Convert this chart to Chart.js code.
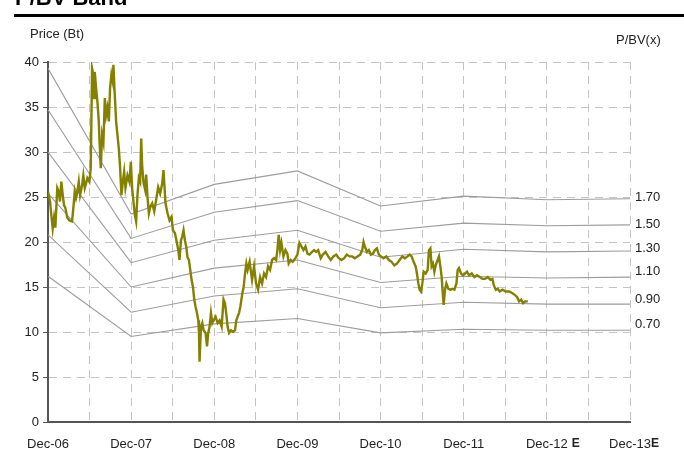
<!DOCTYPE html>
<html>
<head>
<meta charset="utf-8">
<script src="https://cdn.jsdelivr.net/npm/chart.js@4/dist/chart.umd.min.js"></script>
<style>
  html, body { margin: 0; padding: 0; background: #fff; }
  #wrap { position: relative; width: 684px; height: 450px; }
</style>
</head>
<body>
<div id="wrap"><canvas id="chart" width="684" height="450"></canvas></div>
<script>
// x positions are months after Dec-06
const tickLabels = ['Dec-06', 'Dec-07', 'Dec-08', 'Dec-09', 'Dec-10', 'Dec-11', 'Dec-12', 'Dec-13'];
const tickSuffix = ['', '', '', '', '', '', ' E', 'E'];
const bandMonths = [0, 12, 24, 36, 48, 60, 72, 84];

const band170 = [39.3, 23.1, 26.4, 27.9, 24.0, 25.1, 24.7, 24.8];
const band150 = [34.7, 20.4, 23.3, 24.6, 21.2, 22.1, 21.8, 21.9];
const band130 = [30.0, 17.7, 20.2, 21.3, 18.3, 19.2, 18.9, 19.0];
const band110 = [25.4, 15.0, 17.1, 18.0, 15.5, 16.2, 16.0, 16.1];
const band090 = [20.8, 12.2, 14.0, 14.8, 12.7, 13.3, 13.1, 13.1];
const band070 = [16.2, 9.5, 10.9, 11.5, 9.9, 10.3, 10.2, 10.2];

const bandNames = ['1.70', '1.50', '1.30', '1.10', '0.90', '0.70'];
const bandLabelAt = [24.9, 21.9, 19.3, 16.7, 13.6, 10.8];

const priceMonths = [
  0.00, 0.29, 0.48, 0.68, 0.87, 1.06, 1.34, 1.55, 1.73, 1.92, 2.13, 2.31, 2.50, 2.79, 3.08, 3.47,
  3.66, 3.86, 4.05, 4.24, 4.44, 4.63, 4.92, 5.10, 5.31, 5.49, 5.68, 5.97, 6.17, 6.26, 6.36, 6.55,
  6.65, 6.75, 6.94, 7.13, 7.33, 7.42, 7.62, 7.81, 8.00, 8.20, 8.39, 8.57, 8.78, 8.96, 9.15, 9.35,
  9.44, 9.64, 9.83, 10.02, 10.22, 10.41, 10.60, 10.80, 10.99, 11.18, 11.47, 11.75, 11.96, 12.14, 12.33, 12.54,
  12.72, 12.91, 13.11, 13.30, 13.45, 13.59, 13.78, 14.02, 14.17, 14.36, 14.56, 14.75, 15.04, 15.33, 15.61, 15.90,
  16.19, 16.48, 16.67, 16.96, 17.25, 17.54, 17.83, 18.03, 18.32, 18.61, 18.80, 18.98, 19.19, 19.37, 19.56, 19.76,
  19.95, 20.14, 20.34, 20.53, 20.72, 20.92, 21.11, 21.30, 21.50, 21.69, 21.79, 21.87, 22.08, 22.27, 22.45, 22.74,
  22.95, 23.13, 23.32, 23.52, 23.71, 23.90, 24.19, 24.48, 24.77, 25.06, 25.34, 25.55, 25.73, 25.92, 26.13, 26.41,
  26.70, 26.99, 27.18, 27.37, 27.57, 27.76, 28.05, 28.24, 28.44, 28.63, 28.81, 29.10, 29.25, 29.45, 29.74, 30.03,
  30.32, 30.61, 30.90, 31.18, 31.47, 31.76, 32.05, 32.34, 32.63, 32.92, 33.11, 33.30, 33.50, 33.69, 33.98, 34.27,
  34.55, 34.74, 35.03, 35.32, 35.71, 36.00, 36.29, 36.58, 36.87, 37.16, 37.45, 37.73, 38.12, 38.41, 38.70, 38.99,
  39.37, 39.66, 40.05, 40.44, 40.81, 41.20, 41.59, 41.97, 42.36, 42.75, 43.13, 43.52, 43.91, 44.28, 44.67, 45.07,
  45.35, 45.54, 45.73, 46.02, 46.31, 46.60, 46.89, 47.18, 47.47, 47.76, 48.04, 48.43, 48.82, 49.20, 49.59, 49.98,
  50.36, 50.75, 51.14, 51.51, 51.90, 52.19, 52.48, 52.77, 53.06, 53.25, 53.45, 53.64, 53.83, 54.03, 54.22, 54.51,
  54.80, 54.98, 55.19, 55.37, 55.56, 55.76, 55.95, 56.24, 56.43, 56.63, 56.82, 57.01, 57.11, 57.30, 57.50, 57.79,
  58.08, 58.37, 58.66, 58.95, 59.13, 59.32, 59.61, 59.90, 60.19, 60.48, 60.77, 61.16, 61.55, 61.92, 62.31, 62.70,
  63.08, 63.47, 63.86, 64.15, 64.34, 64.63, 64.91, 65.20, 65.60, 66.07, 66.55, 67.04, 67.41, 67.70, 67.99, 68.29,
  68.57, 68.86, 69.25
];
const priceValues = [
  25.6, 24.5, 23.0, 21.5, 22.7, 21.6, 26.0, 25.6, 24.5, 26.7, 25.2, 24.1, 23.8, 22.7, 22.4, 22.3,
  23.8, 25.6, 24.9, 25.6, 26.7, 25.2, 26.3, 27.4, 26.0, 26.5, 27.1, 26.7, 28.2, 33.4, 39.3, 38.6,
  36.0, 38.9, 37.1, 35.6, 33.4, 31.5, 28.2, 31.9, 31.1, 36.0, 34.1, 34.9, 33.4, 37.1, 38.6, 37.8,
  39.7, 36.3, 33.4, 31.9, 30.4, 28.2, 25.2, 26.7, 27.8, 26.0, 27.4, 26.7, 28.9, 26.0, 24.5, 23.0,
  22.3, 25.2, 27.1, 26.7, 31.5, 28.5, 26.6, 25.8, 27.5, 25.0, 23.2, 23.9, 24.3, 23.4, 24.7, 26.1,
  25.4, 26.5, 28.0, 24.3, 23.2, 22.4, 22.8, 21.3, 21.0, 19.9, 19.1, 18.0, 20.2, 20.6, 21.3, 20.2,
  19.5, 18.3, 18.0, 16.9, 15.8, 15.0, 13.6, 12.8, 12.1, 11.3, 9.9, 6.7, 10.6, 11.0, 10.2, 9.9,
  8.4, 9.9, 10.6, 12.1, 11.0, 11.3, 11.7, 11.0, 11.3, 10.6, 13.6, 13.2, 12.0, 10.6, 9.9, 10.2,
  10.0, 10.2, 11.3, 11.7, 12.1, 12.8, 14.3, 15.0, 16.5, 17.6, 16.9, 17.8, 16.9, 15.8, 17.3, 15.4,
  14.7, 16.1, 15.4, 16.5, 16.1, 17.3, 16.9, 18.0, 18.2, 18.0, 19.1, 20.8, 19.1, 19.9, 18.4, 19.1,
  18.7, 17.6, 18.0, 17.8, 18.2, 18.6, 19.9, 19.5, 19.1, 19.5, 18.7, 18.6, 18.9, 19.1, 18.9, 19.1,
  18.2, 18.6, 18.9, 18.4, 18.0, 18.4, 18.6, 18.2, 18.0, 18.2, 18.6, 18.4, 18.4, 18.2, 18.4, 18.6,
  19.1, 20.0, 19.5, 18.9, 19.1, 18.6, 18.7, 19.1, 19.3, 18.6, 18.4, 18.2, 18.4, 18.0, 17.8, 17.4,
  17.6, 18.0, 18.4, 18.2, 18.4, 18.6, 18.4, 17.8, 17.3, 16.5, 15.4, 14.7, 14.5, 15.4, 16.7, 16.5,
  16.9, 19.1, 19.3, 17.3, 17.6, 16.7, 17.4, 18.0, 18.4, 17.3, 16.1, 13.9, 13.0, 14.7, 15.4, 14.8,
  14.7, 14.8, 14.7, 15.4, 16.9, 17.1, 16.5, 16.3, 16.5, 16.7, 16.3, 16.5, 16.1, 16.3, 16.1, 15.9,
  15.9, 16.1, 15.8, 15.9, 15.2, 14.7, 14.8, 14.5, 14.7, 14.5, 14.5, 14.3, 14.1, 13.9, 13.4, 13.6,
  13.2, 13.4, 13.4
];

const FONT = 'Arial, "Liberation Sans", sans-serif';
const bandColor = '#9c9c9c';

const bandSeries = [band170, band150, band130, band110, band090, band070];

const datasets = [{
  label: 'Price',
  data: priceMonths.map((m, i) => ({ x: m, y: priceValues[i] })),
  borderColor: '#848000',
  borderWidth: 2.4,
  pointRadius: 0,
  tension: 0
}].concat(bandSeries.map((vals, k) => ({
  label: bandNames[k],
  data: bandMonths.map((m, i) => ({ x: m, y: vals[i] })),
  borderColor: bandColor,
  borderWidth: 1.1,
  pointRadius: 0,
  tension: 0
})));

const decor = {
  id: 'decor',
  afterDraw(chart) {
    const { ctx, scales: { x, y } } = chart;
    ctx.save();
    // cut-off header and rule
    ctx.fillStyle = '#000';
    ctx.font = 'bold 22px ' + FONT;
    ctx.textAlign = 'left';
    ctx.textBaseline = 'alphabetic';
    ctx.fillText('P/BV Band', 15, 5);
    ctx.fillRect(14, 14, 670, 3);

    ctx.fillStyle = '#222';
    ctx.font = '13px ' + FONT;
    ctx.textBaseline = 'middle';
    ctx.fillText('Price (Bt)', 30, 34);
    ctx.fillText('P/BV(x)', 616, 40);

    bandNames.forEach((t, i) => {
      ctx.fillText(t, 635, y.getPixelForValue(bandLabelAt[i]));
    });

    // bold "E" after estimate years
    tickLabels.forEach((t, i) => {
      if (!tickSuffix[i]) return;
      ctx.font = '13px ' + FONT;
      const px = x.getPixelForValue(bandMonths[i]);
      const w = ctx.measureText(t).width;
      ctx.font = 'bold 12px ' + FONT;
      const sp = tickSuffix[i].startsWith(' ') ? 4 : 0;
      ctx.fillText('E', px + w / 2 + sp, 444);
    });
    ctx.restore();
  }
};

new Chart(document.getElementById('chart'), {
  type: 'line',
  data: { datasets },
  options: {
    responsive: false,
    animation: false,
    events: [],
    layout: { padding: { left: 0, right: 54, top: 62, bottom: 0 } },
    plugins: { legend: { display: false }, tooltip: { enabled: false }, title: { display: false } },
    scales: {
      x: {
        type: 'linear',
        min: 0,
        max: 84,
        afterFit: s => { s.height = 28; },
        grid: { color: '#c4c4c4', lineWidth: 1, drawTicks: false },
        border: { display: true, color: '#555', width: 2, dash: [8, 6] },
        ticks: {
          stepSize: 6,
          autoSkip: false,
          maxRotation: 0,
          padding: 15,
          color: '#222',
          font: { family: FONT, size: 13 },
          callback: v => (v % 12 === 0 ? tickLabels[v / 12] : '')
        }
      },
      y: {
        min: 0,
        max: 40,
        afterFit: s => { s.width = 48; },
        grid: { color: '#c4c4c4', lineWidth: 1, tickLength: 5, tickColor: '#555' },
        border: { display: true, color: '#555', width: 2, dash: [8, 6] },
        ticks: {
          stepSize: 5,
          padding: 4,
          color: '#222',
          font: { family: FONT, size: 13 }
        }
      }
    }
  },
  plugins: [decor]
});
</script>
</body>
</html>
